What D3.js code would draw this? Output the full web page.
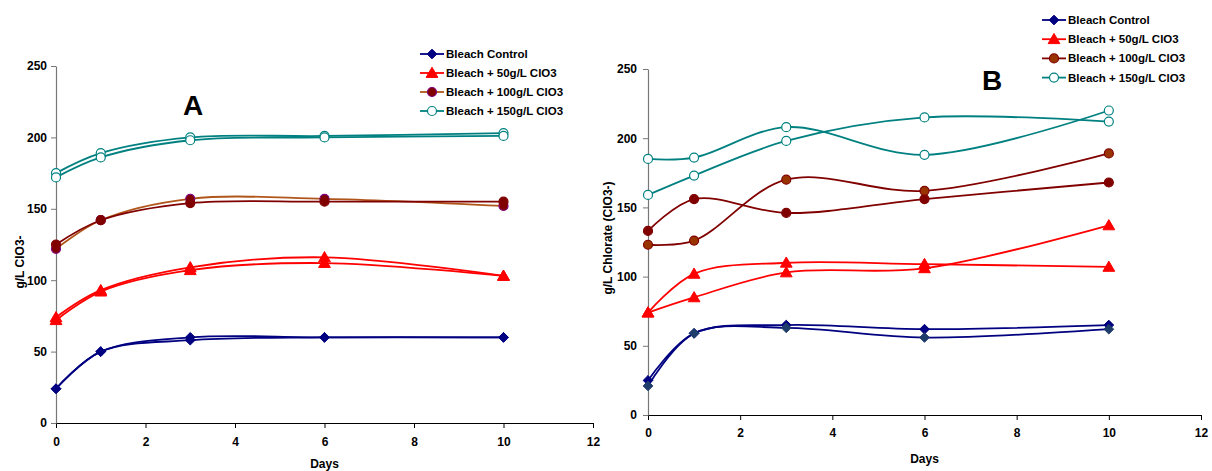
<!DOCTYPE html>
<html>
<head>
<meta charset="utf-8">
<script src="https://cdn.jsdelivr.net/npm/d3@7"></script>
<style>
  body { margin: 0; background: #fff; }
  svg text { font-family: Arial, "Liberation Sans", sans-serif; }
</style>
</head>
<body>
<svg id="chart" width="1212" height="471"></svg>
<script>
// sampling days
const days = [0, 1, 3, 6, 10];
const xTicks = [0, 2, 4, 6, 8, 10, 12];
const yTicks = [0, 50, 100, 150, 200, 250];
const legendNames = ["Bleach Control", "Bleach + 50g/L ClO3", "Bleach + 100g/L ClO3", "Bleach + 150g/L ClO3"];

// panel A (two replicates per treatment)
const aControl1 = [24, 50, 60, 60, 60];
const aControl2 = [24, 50, 58, 60, 60];
const a50g1 = [74, 93, 109, 116, 103];
const a50g2 = [72, 92, 107, 112, 103];
const a100g1 = [122, 142, 157, 157, 152];
const a100g2 = [125, 142, 154, 155, 155];
const a150g1 = [175, 189, 200, 201, 203];
const a150g2 = [172, 186, 198, 200, 201];

// panel B
const bControl1 = [25, 59, 65, 62, 65];
const bControl2 = [21, 59, 63, 56, 62];
const b50g1 = [74, 102, 110, 109, 107];
const b50g2 = [74, 85, 103, 106, 137];
const b100g1 = [133, 156, 146, 156, 168];
const b100g2 = [123, 126, 170, 162, 189];
const b150g1 = [185, 186, 208, 188, 220];
const b150g2 = [159, 173, 198, 215, 212];

const svg = d3.select("#chart");

function marker(g, shape, fill, stroke, x, y) {
  if (shape === "diamond") {
    g.append("path").attr("d", d3.symbol(d3.symbolDiamond2, 60)())
      .attr("transform", `translate(${x},${y})`)
      .attr("fill", fill).attr("stroke", stroke).attr("stroke-width", 1);
  } else if (shape === "triangle") {
    g.append("path").attr("d", d3.symbol(d3.symbolTriangle, 60)())
      .attr("transform", `translate(${x},${y + 1})`)
      .attr("fill", fill).attr("stroke", stroke).attr("stroke-width", 1);
  } else {
    g.append("circle").attr("cx", x).attr("cy", y).attr("r", 4.5)
      .attr("fill", fill).attr("stroke", stroke).attr("stroke-width", 1.2);
  }
}

function drawPanel(cfg) {
  const x = d3.scaleLinear().domain([0, 12]).range([cfg.left, cfg.right]);
  const y = d3.scaleLinear().domain([0, 250]).range([cfg.bottom, cfg.top]);
  const g = svg.append("g");

  const xAxis = d3.axisBottom(x).tickValues(xTicks).tickSize(5).tickSizeOuter(0).tickPadding(cfg.xPad);
  const yAxis = d3.axisLeft(y).tickValues(yTicks).tickSize(5).tickSizeOuter(0).tickPadding(cfg.yPad);

  const xg = g.append("g").attr("transform", `translate(0,${cfg.bottom})`).call(xAxis);
  xg.select(".domain").attr("stroke", "#000").attr("stroke-width", 1.2);
  xg.selectAll("line").attr("stroke", "#000");
  xg.selectAll("text").attr("font-size", 12).attr("font-weight", "bold").attr("fill", "#000")
    .attr("font-family", "Arial, 'Liberation Sans', sans-serif");

  const yg = g.append("g").attr("transform", `translate(${cfg.left},0)`).call(yAxis);
  yg.select(".domain").attr("stroke", "#777").attr("stroke-width", 1.2);
  yg.selectAll("line").attr("stroke", "#777");
  yg.selectAll("text").attr("font-size", 12).attr("font-weight", "bold").attr("fill", "#000")
    .attr("font-family", "Arial, 'Liberation Sans', sans-serif");

  g.append("text").attr("x", (cfg.left + cfg.right) / 2).attr("y", cfg.daysY)
    .attr("text-anchor", "middle").attr("font-size", 12).attr("font-weight", "bold").text("Days");

  g.append("text").attr("transform", `translate(${cfg.yLabelX},${cfg.yLabelY}) rotate(-90)`)
    .attr("text-anchor", "middle").attr("font-size", 12).attr("font-weight", "bold").text(cfg.yLabel);

  g.append("text").attr("x", cfg.letterX).attr("y", cfg.letterY).attr("text-anchor", "middle")
    .attr("font-family", "'Liberation Serif', 'Times New Roman', serif").attr("font-size", 28)
    .attr("font-weight", "bold").text(cfg.letter);

  const line = d3.line().x((d, i) => x(days[i])).y(d => y(d)).curve(d3.curveCatmullRom.alpha(0.5));

  cfg.series.forEach(s => {
    g.append("path").datum(s.values).attr("d", line).attr("fill", "none")
      .attr("stroke", s.line).attr("stroke-width", 1.8);
  });
  cfg.series.forEach(s => {
    s.values.forEach((v, i) => marker(g, s.shape, s.fill, s.stroke, x(days[i]), y(v)));
  });

  // legend
  const lg = svg.append("g");
  cfg.legend.forEach((s, i) => {
    const ly = cfg.legY + i * cfg.legStep;
    lg.append("line").attr("x1", cfg.legX).attr("x2", cfg.legX + 24).attr("y1", ly).attr("y2", ly)
      .attr("stroke", s.line).attr("stroke-width", 1.8);
    marker(lg, s.shape, s.fill, s.stroke, cfg.legX + 12, ly);
    lg.append("text").attr("x", cfg.legX + 26).attr("y", ly + 4).attr("font-size", 11.5)
      .attr("font-weight", "bold").text(legendNames[i]);
  });
}

drawPanel({
  left: 56, right: 593, top: 66, bottom: 423, xPad: 9, yPad: 4,
  daysY: 468, yLabel: "g/L ClO3-", yLabelX: 24, yLabelY: 262,
  letter: "A", letterX: 193, letterY: 115,
  legX: 420, legY: 54, legStep: 19,
  legend: [
    { line: "#000080", shape: "diamond", fill: "#000080", stroke: "#000080" },
    { line: "#ff0000", shape: "triangle", fill: "#ff0000", stroke: "#ff0000" },
    { line: "#b0561a", shape: "circle", fill: "#800000", stroke: "#800080" },
    { line: "#008080", shape: "circle", fill: "#fff", stroke: "#008080" }
  ],
  series: [
    { values: aControl1, line: "#000080", shape: "diamond", fill: "#000080", stroke: "#000080" },
    { values: aControl2, line: "#000080", shape: "diamond", fill: "#000080", stroke: "#000080" },
    { values: a50g1, line: "#ff0000", shape: "triangle", fill: "#ff0000", stroke: "#ff0000" },
    { values: a50g2, line: "#ff0000", shape: "triangle", fill: "#ff0000", stroke: "#ff0000" },
    { values: a100g1, line: "#b0561a", shape: "circle", fill: "#800000", stroke: "#800080" },
    { values: a100g2, line: "#800000", shape: "circle", fill: "#800000", stroke: "#800000" },
    { values: a150g1, line: "#008080", shape: "circle", fill: "#fff", stroke: "#008080" },
    { values: a150g2, line: "#008080", shape: "circle", fill: "#fff", stroke: "#008080" }
  ]
});

drawPanel({
  left: 648, right: 1201, top: 69, bottom: 415, xPad: 8, yPad: 6,
  daysY: 463, yLabel: "g/L Chlorate (ClO3-)", yLabelX: 612, yLabelY: 238,
  letter: "B", letterX: 992, letterY: 90,
  legX: 1042, legY: 20, legStep: 19.2,
  legend: [
    { line: "#000080", shape: "diamond", fill: "#000080", stroke: "#000080" },
    { line: "#ff0000", shape: "triangle", fill: "#ff0000", stroke: "#ff0000" },
    { line: "#800000", shape: "circle", fill: "#993300", stroke: "#800000" },
    { line: "#008080", shape: "circle", fill: "#fff", stroke: "#008080" }
  ],
  series: [
    { values: bControl1, line: "#000080", shape: "diamond", fill: "#000080", stroke: "#000080" },
    { values: bControl2, line: "#000080", shape: "diamond", fill: "#1f3d6b", stroke: "#1f3d6b" },
    { values: b50g1, line: "#ff0000", shape: "triangle", fill: "#ff0000", stroke: "#ff0000" },
    { values: b50g2, line: "#ff0000", shape: "triangle", fill: "#ff0000", stroke: "#ff0000" },
    { values: b100g1, line: "#800000", shape: "circle", fill: "#800000", stroke: "#800000" },
    { values: b100g2, line: "#800000", shape: "circle", fill: "#993300", stroke: "#800000" },
    { values: b150g1, line: "#008080", shape: "circle", fill: "#fff", stroke: "#008080" },
    { values: b150g2, line: "#008080", shape: "circle", fill: "#fff", stroke: "#008080" }
  ]
});
</script>
</body>
</html>
